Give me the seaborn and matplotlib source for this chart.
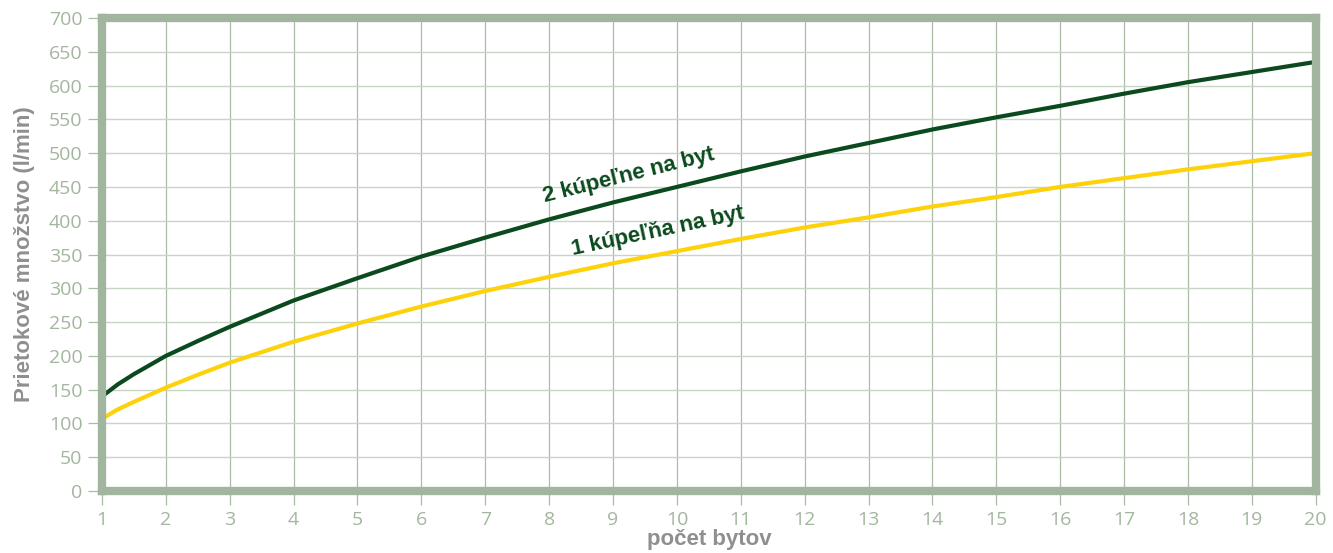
import matplotlib
matplotlib.use("Agg")
import matplotlib.pyplot as plt
import seaborn as sns
import pandas as pd

# Data
x_bytov = [1, 1.25, 1.5, 2, 2.5, 3, 4, 5, 6, 7, 8, 9, 10, 11, 12, 13, 14, 15, 16, 17, 18, 19, 20]
dve_kupelne = [140, 158, 173, 200, 222, 243, 282, 315, 347, 375, 402, 427, 450, 473, 495, 515, 535, 553, 570, 588, 605, 620, 635]
jedna_kupelna = [107, 121, 132, 153, 172, 190, 221, 248, 273, 296, 317, 337, 355, 373, 390, 405, 421, 435, 450, 463, 476, 488, 500]
series_names = ["2 kúpeľne na byt", "1 kúpeľňa na byt"]
x_ticks = list(range(1, 21))
y_ticks = list(range(0, 701, 50))

df = pd.DataFrame({
    "x": x_bytov * 2,
    "y": dve_kupelne + jedna_kupelna,
    "serie": [series_names[0]] * len(x_bytov) + [series_names[1]] * len(x_bytov),
})

sns.set_theme(style="white")
plt.rcParams["font.family"] = ["Liberation Sans", "DejaVu Sans"]

frame_col = "#a2b59e"
vgrid_col = "#a9bda5"
hgrid_col = "#c8d4c5"
tick_col = "#a3b69f"
dark = "#0b4a1e"
yellow = "#fdd20a"

fig = plt.figure(figsize=(13.33, 5.53), dpi=100)
ax = fig.add_axes([0.0765, 0.112, 0.9105, 0.8555])

sns.lineplot(data=df, x="x", y="y", hue="serie", palette=[dark, yellow],
             linewidth=3.0, legend=False, ax=ax, zorder=3)

ax.set_xlim(1, 20)
ax.set_ylim(0, 700)
ax.set_xticks(x_ticks)
ax.set_yticks(y_ticks)

for v in x_ticks:
    ax.axvline(v, color=vgrid_col, linewidth=0.9, zorder=1)
for v in y_ticks:
    ax.axhline(v, color=hgrid_col, linewidth=1.0, zorder=1)

for s in ax.spines.values():
    s.set_visible(True)
    s.set_color(frame_col)
    s.set_linewidth(6)
    s.set_zorder(5)

ax.tick_params(axis="both", which="both", length=10, width=0.9, color=vgrid_col,
               direction="out", pad=4, left=True, bottom=True,
               labelsize=14, labelcolor=tick_col)
for lab in ax.get_xticklabels() + ax.get_yticklabels():
    lab.set_fontfamily("Open Sans")

ax.set_xlabel("počet bytov", fontsize=16, fontweight="bold", color="#8f8f8f", labelpad=0)
ax.set_ylabel("Prietokové množstvo (l/min)", fontsize=16, fontweight="bold", color="#8f8f8f", labelpad=10)

ax.text(9.25, 467, series_names[0], rotation=14, ha="center", va="center",
        fontsize=16, fontweight="bold", color=dark, rotation_mode="anchor", zorder=4)
ax.text(9.7, 384, series_names[1], rotation=12, ha="center", va="center",
        fontsize=16, fontweight="bold", color=dark, rotation_mode="anchor", zorder=4)

fig.savefig("out.png", dpi=100, facecolor="white")
